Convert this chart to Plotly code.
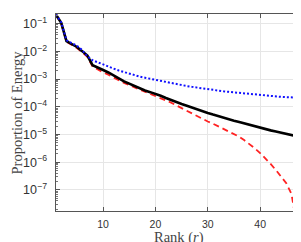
import plotly.graph_objects as go

rank = list(range(1, 49))

log_black = [-0.68, -0.97, -1.63, -1.73, -1.84, -1.99, -2.15, -2.50, -2.60, -2.67,
             -2.76, -2.88, -2.97, -3.08, -3.17, -3.25, -3.33, -3.41, -3.47, -3.53,
             -3.60, -3.68, -3.76, -3.84, -3.90, -3.96, -4.03, -4.09, -4.15, -4.22,
             -4.28, -4.34, -4.39, -4.44, -4.50, -4.55, -4.60, -4.66, -4.71, -4.77,
             -4.81, -4.85, -4.89, -4.93, -4.97, -5.02, -5.06, -5.10]
log_blue = [-0.67, -0.95, -1.60, -1.70, -1.80, -1.95, -2.18, -2.32, -2.40, -2.46,
            -2.54, -2.62, -2.69, -2.75, -2.80, -2.86, -2.91, -2.95, -2.99, -3.03,
            -3.07, -3.11, -3.15, -3.18, -3.22, -3.25, -3.28, -3.31, -3.34, -3.37,
            -3.40, -3.42, -3.44, -3.46, -3.48, -3.50, -3.52, -3.54, -3.56, -3.58,
            -3.60, -3.61, -3.63, -3.64, -3.65, -3.66, -3.67, -3.68]
log_red = [-0.68, -0.99, -1.65, -1.76, -1.88, -2.03, -2.20, -2.55, -2.66, -2.76,
           -2.84, -2.95, -3.04, -3.14, -3.22, -3.30, -3.38, -3.46, -3.53, -3.60,
           -3.68, -3.76, -3.85, -3.95, -4.05, -4.15, -4.25, -4.35, -4.44, -4.53,
           -4.61, -4.70, -4.79, -4.87, -4.97, -5.08, -5.21, -5.35, -5.50, -5.67,
           -5.86, -6.06, -6.28, -6.50, -6.76, -7.15, -8.30]

x_title = "Rank (<i>r</i>)"
y_title = "Proportion of Energy"

black = [10 ** v for v in log_black]
blue = [10 ** v for v in log_blue]
red = [10 ** v for v in log_red]

fig = go.Figure()
fig.add_trace(go.Scatter(x=rank[:len(red)], y=red, mode="lines",
                         line=dict(color="#ff2222", width=1.8, dash="6px,4px")))
fig.add_trace(go.Scatter(x=rank, y=black, mode="lines",
                         line=dict(color="black", width=2.6)))
fig.add_trace(go.Scatter(x=rank, y=blue, mode="lines",
                         line=dict(color="#1010ff", width=2, dash="2px,2px")))

serif = "Liberation Serif, DejaVu Serif, serif"
sans = "Liberation Sans, Arial, sans-serif"

fig.update_layout(
    width=301, height=242,
    margin=dict(l=48, r=7, t=6, b=39, autoexpand=False),
    paper_bgcolor="white", plot_bgcolor="white",
    showlegend=False,
    font=dict(family=sans, size=10, color="#333"),
)
fig.update_xaxes(
    range=[1, 48], tickvals=[10, 20, 30, 40], ticks="inside", ticklen=4,
    tickcolor="#555", showline=True, linecolor="#555", linewidth=1, mirror="allticks",
    showgrid=True, gridcolor="#e6e6e6", gridwidth=1, zeroline=False, automargin=False,
    ticklabelstandoff=3,
    tickfont=dict(family=sans, size=10.5, color="#333"),
)
fig.update_yaxes(
    type="log", range=[-7.76, -0.65], dtick=1, exponentformat="power",
    ticks="inside", ticklen=4, tickcolor="#555",
    showline=True, linecolor="#555", linewidth=1, mirror="allticks",
    showgrid=True, gridcolor="#e6e6e6", gridwidth=1, zeroline=False, automargin=False,
    ticklabelstandoff=6,
    minor=dict(ticks="inside", ticklen=2, tickcolor="#777", showgrid=False),
    tickfont=dict(family=sans, size=10, color="#333"),
)
fig.add_annotation(text=x_title, xref="paper", yref="paper", x=0.5, y=0,
                   yshift=-26, xanchor="center", yanchor="middle", showarrow=False,
                   font=dict(family=serif, size=14.5, color="#444"))
fig.add_annotation(text=y_title, xref="paper", yref="paper", x=0, y=0.5,
                   xshift=-40, xanchor="center", yanchor="middle", showarrow=False,
                   textangle=-90, font=dict(family=serif, size=14.5, color="#444"))

fig.write_html("out.html")
